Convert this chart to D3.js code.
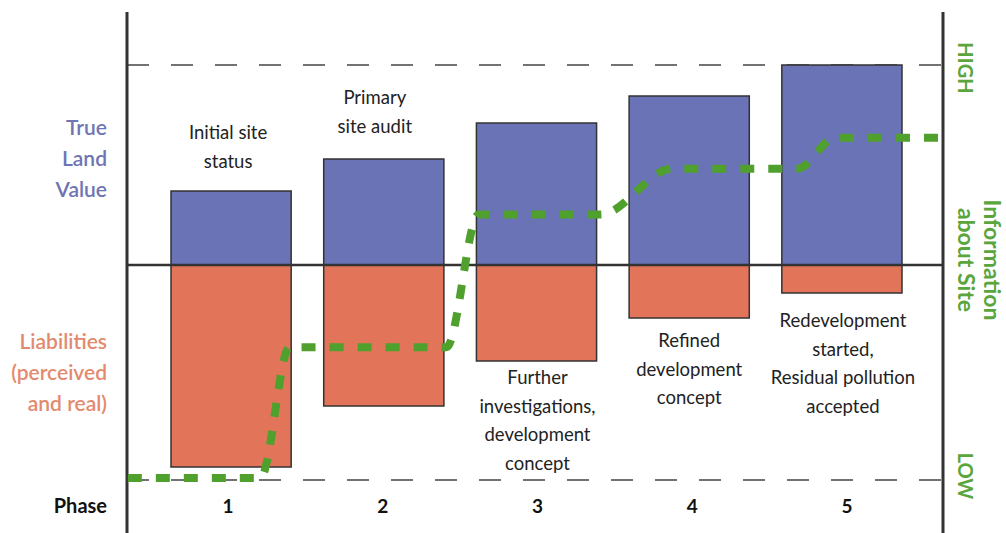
<!DOCTYPE html>
<html lang="en">
<head>
  <meta charset="UTF-8">
  <title>Land value vs liabilities by phase</title>
  <script src="https://d3js.org/d3.v7.min.js"></script>
  <style>
    body { margin: 0; background: #fff; }
    svg { display: block; font-family: Lato, "Open Sans", sans-serif; }
  </style>
</head>
<body>
  <svg width="1006" height="533"></svg>

  <script>
    // Chart values
    const phases = ["1", "2", "3", "4", "5"];
    const landValue = [37, 53, 71, 84.5, 100];      // blue bars, above the zero line
    const liabilities = [101, 70.5, 48, 26.5, 14];  // orange bars, below the zero line

    // "Information about Site" dashed green step line (position in phase units, level 0 = LOW, 100 = HIGH)
    const infoPos = [0.33, 1.2, 1.39, 2.42, 2.63, 3.43, 3.9, 4.72, 4.97, 5.66];
    const infoLevel = [0.5, 0.5, 32, 32, 64, 64, 75, 75, 82.5, 82.5];

    const phaseNotes = [
      ["Initial site", "status"],
      ["Primary", "site audit"],
      ["Further", "investigations,", "development", "concept"],
      ["Refined", "development", "concept"],
      ["Redevelopment", "started,", "Residual pollution", "accepted"]
    ];
    const leftLabels = [
      { lines: ["True", "Land", "Value"], color: "#6f74b4" },
      { lines: ["Liabilities", "(perceived", "and real)"], color: "#e38a6e" }
    ];

    const svg = d3.select("svg");
    const axisLeftX = 127, axisRightX = 943;

    // Scales
    const x = d3.scaleBand()
      .domain(phases)
      .range([171, 902])
      .paddingInner(0.213)
      .paddingOuter(0);

    const xPos = d3.scaleLinear().domain([1, 5]).range([230, 840]);
    const xLabel = d3.scalePoint().domain(phases).range([228, 847]);

    const y = d3.scaleLinear().domain([-107.5, 100]).range([480, 65]);
    const yInfo = d3.scaleLinear().domain([0, 100]).range([480, 65]);

    // HIGH / LOW dashed reference lines
    svg.selectAll("line.ref")
      .data([100, 0])
      .join("line")
      .attr("class", "ref")
      .attr("x1", axisLeftX)
      .attr("x2", axisRightX)
      .attr("y1", d => yInfo(d))
      .attr("y2", d => yInfo(d))
      .attr("stroke", "#444")
      .attr("stroke-width", 1.5)
      .attr("stroke-dasharray", "22,22");

    // Bars
    svg.selectAll("rect.land")
      .data(landValue)
      .join("rect")
      .attr("class", "land")
      .attr("x", (d, i) => x(phases[i]))
      .attr("width", x.bandwidth())
      .attr("y", d => y(d))
      .attr("height", d => y(0) - y(d))
      .attr("fill", "#6a73b5")
      .attr("stroke", "#333")
      .attr("stroke-width", 1.5);

    svg.selectAll("rect.liab")
      .data(liabilities)
      .join("rect")
      .attr("class", "liab")
      .attr("x", (d, i) => x(phases[i]))
      .attr("width", x.bandwidth())
      .attr("y", y(0))
      .attr("height", d => y(-d) - y(0))
      .attr("fill", "#e2745a")
      .attr("stroke", "#333")
      .attr("stroke-width", 1.5);

    // Zero line
    svg.append("line")
      .attr("x1", axisLeftX).attr("x2", axisRightX)
      .attr("y1", y(0)).attr("y2", y(0))
      .attr("stroke", "#333")
      .attr("stroke-width", 2.5);

    // Vertical axes
    svg.selectAll("line.vaxis")
      .data([axisLeftX, axisRightX])
      .join("line")
      .attr("class", "vaxis")
      .attr("x1", d => d).attr("x2", d => d)
      .attr("y1", 12).attr("y2", 533)
      .attr("stroke", "#333")
      .attr("stroke-width", 3);

    // Information line
    const infoData = infoPos.map((p, i) => [p, infoLevel[i]]);
    svg.append("path")
      .datum(infoData)
      .attr("fill", "none")
      .attr("stroke", "#50a02e")
      .attr("stroke-width", 8)
      .attr("stroke-dasharray", "14,14")
      .attr("d", d3.line()
        .curve(d3.curveMonotoneX)
        .x(d => xPos(d[0]))
        .y(d => yInfo(d[1]))
      );

    // Notes next to the bars (first-line centre y, x offset from bar centre)
    const noteLayout = [
      { y: 133, dx: -3 },
      { y: 98, dx: -9 },
      { y: 378, dx: 1 },
      { y: 341, dx: 0 },
      { y: 321, dx: 1 }
    ];
    const lineH = 28.5;

    phaseNotes.forEach((lines, i) => {
      const cx = x(phases[i]) + x.bandwidth() / 2 + noteLayout[i].dx;
      const t = svg.append("text")
        .attr("text-anchor", "middle")
        .attr("font-size", 18.5)
        .attr("fill", "#222");
      lines.forEach((s, j) => {
        t.append("tspan")
          .attr("x", cx)
          .attr("y", noteLayout[i].y + j * lineH)
          .attr("dy", "0.35em")
          .text(s);
      });
    });

    // Left side labels
    const leftLayout = [128, 342];
    leftLabels.forEach((lab, i) => {
      const t = svg.append("text")
        .attr("text-anchor", "end")
        .attr("font-size", 21)
        .attr("font-weight", 600)
        .attr("fill", lab.color);
      lab.lines.forEach((s, j) => {
        t.append("tspan")
          .attr("x", 107)
          .attr("y", leftLayout[i] + j * 31)
          .attr("dy", "0.35em")
          .text(s);
      });
    });

    svg.append("text")
      .attr("x", 107)
      .attr("y", 506)
      .attr("dy", "0.35em")
      .attr("text-anchor", "end")
      .attr("font-size", 20)
      .attr("font-weight", 700)
      .attr("fill", "#111")
      .text("Phase");

    // Phase numbers
    svg.selectAll("text.phase")
      .data(phases)
      .join("text")
      .attr("class", "phase")
      .attr("x", d => xLabel(d))
      .attr("y", 506)
      .attr("dy", "0.35em")
      .attr("text-anchor", "middle")
      .attr("font-size", 19)
      .attr("font-weight", 700)
      .attr("fill", "#111")
      .text(d => d);

    // Right side rotated labels
    const green = "#5aa53c";
    const rightText = [
      { s: "HIGH", x: 965, y: 68, size: 20 },
      { s: "Information", x: 992, y: 260, size: 23 },
      { s: "about Site", x: 966, y: 260, size: 23 },
      { s: "LOW", x: 965, y: 476, size: 20 }
    ];
    svg.selectAll("text.right")
      .data(rightText)
      .join("text")
      .attr("class", "right")
      .attr("transform", d => `translate(${d.x},${d.y}) rotate(90)`)
      .attr("dy", "0.35em")
      .attr("text-anchor", "middle")
      .attr("font-size", d => d.size)
      .attr("font-weight", 700)
      .attr("fill", green)
      .text(d => d.s);
  </script>
</body>
</html>
